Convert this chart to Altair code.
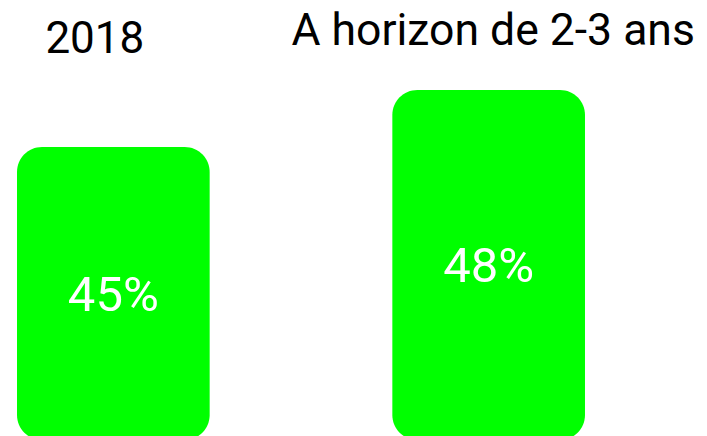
import altair as alt
import pandas as pd

categories = ["2018", "A horizon de 2-3 ans"]
values = [45, 48]
labels = ["45%", "48%"]
BASE = 29.58

df = pd.DataFrame({"cat": categories, "value": values, "label": labels, "base": [BASE] * len(values)})

xscale = alt.Scale(domain=categories, paddingInner=0.4867, paddingOuter=0.024)
yscale = alt.Scale(domain=[BASE, 52.32], zero=False, nice=False)

base = alt.Chart(df).encode(
    x=alt.X("cat:N", scale=xscale, axis=None, sort=categories)
)

bars = base.mark_bar(color="#00FF00", cornerRadius=25).encode(
    y=alt.Y("value:Q", scale=yscale, axis=None),
    y2="base:Q",
)

vals = base.transform_calculate(mid="(datum.value + datum.base) / 2").mark_text(
    color="white", font="Roboto", fontSize=49, baseline="middle", align="center", dy=2
).encode(
    y=alt.Y("mid:Q", scale=yscale, axis=None),
    text="label:N",
)

t1 = base.transform_filter(alt.datum.cat == categories[0]).mark_text(
    color="black", font="Roboto", fontSize=44, baseline="alphabetic", align="center", dx=-18.5
).encode(y=alt.value(45), text="cat:N")

t2 = base.transform_filter(alt.datum.cat == categories[1]).mark_text(
    color="black", font="Roboto", fontSize=44.5, baseline="alphabetic", align="center", dx=4.5
).encode(y=alt.value(37), text="cat:N")

chart = alt.layer(bars, vals, t1, t2).properties(
    width=586, height=432,
    autosize="none",
    padding={"left": 0, "top": 0, "right": 104, "bottom": 0},
    view=alt.ViewBackground(stroke="transparent", strokeWidth=0),
).configure_view(stroke="transparent", strokeWidth=0).configure(background="white")

chart.save("out.html", embed_options={"renderer": "svg", "actions": False})
